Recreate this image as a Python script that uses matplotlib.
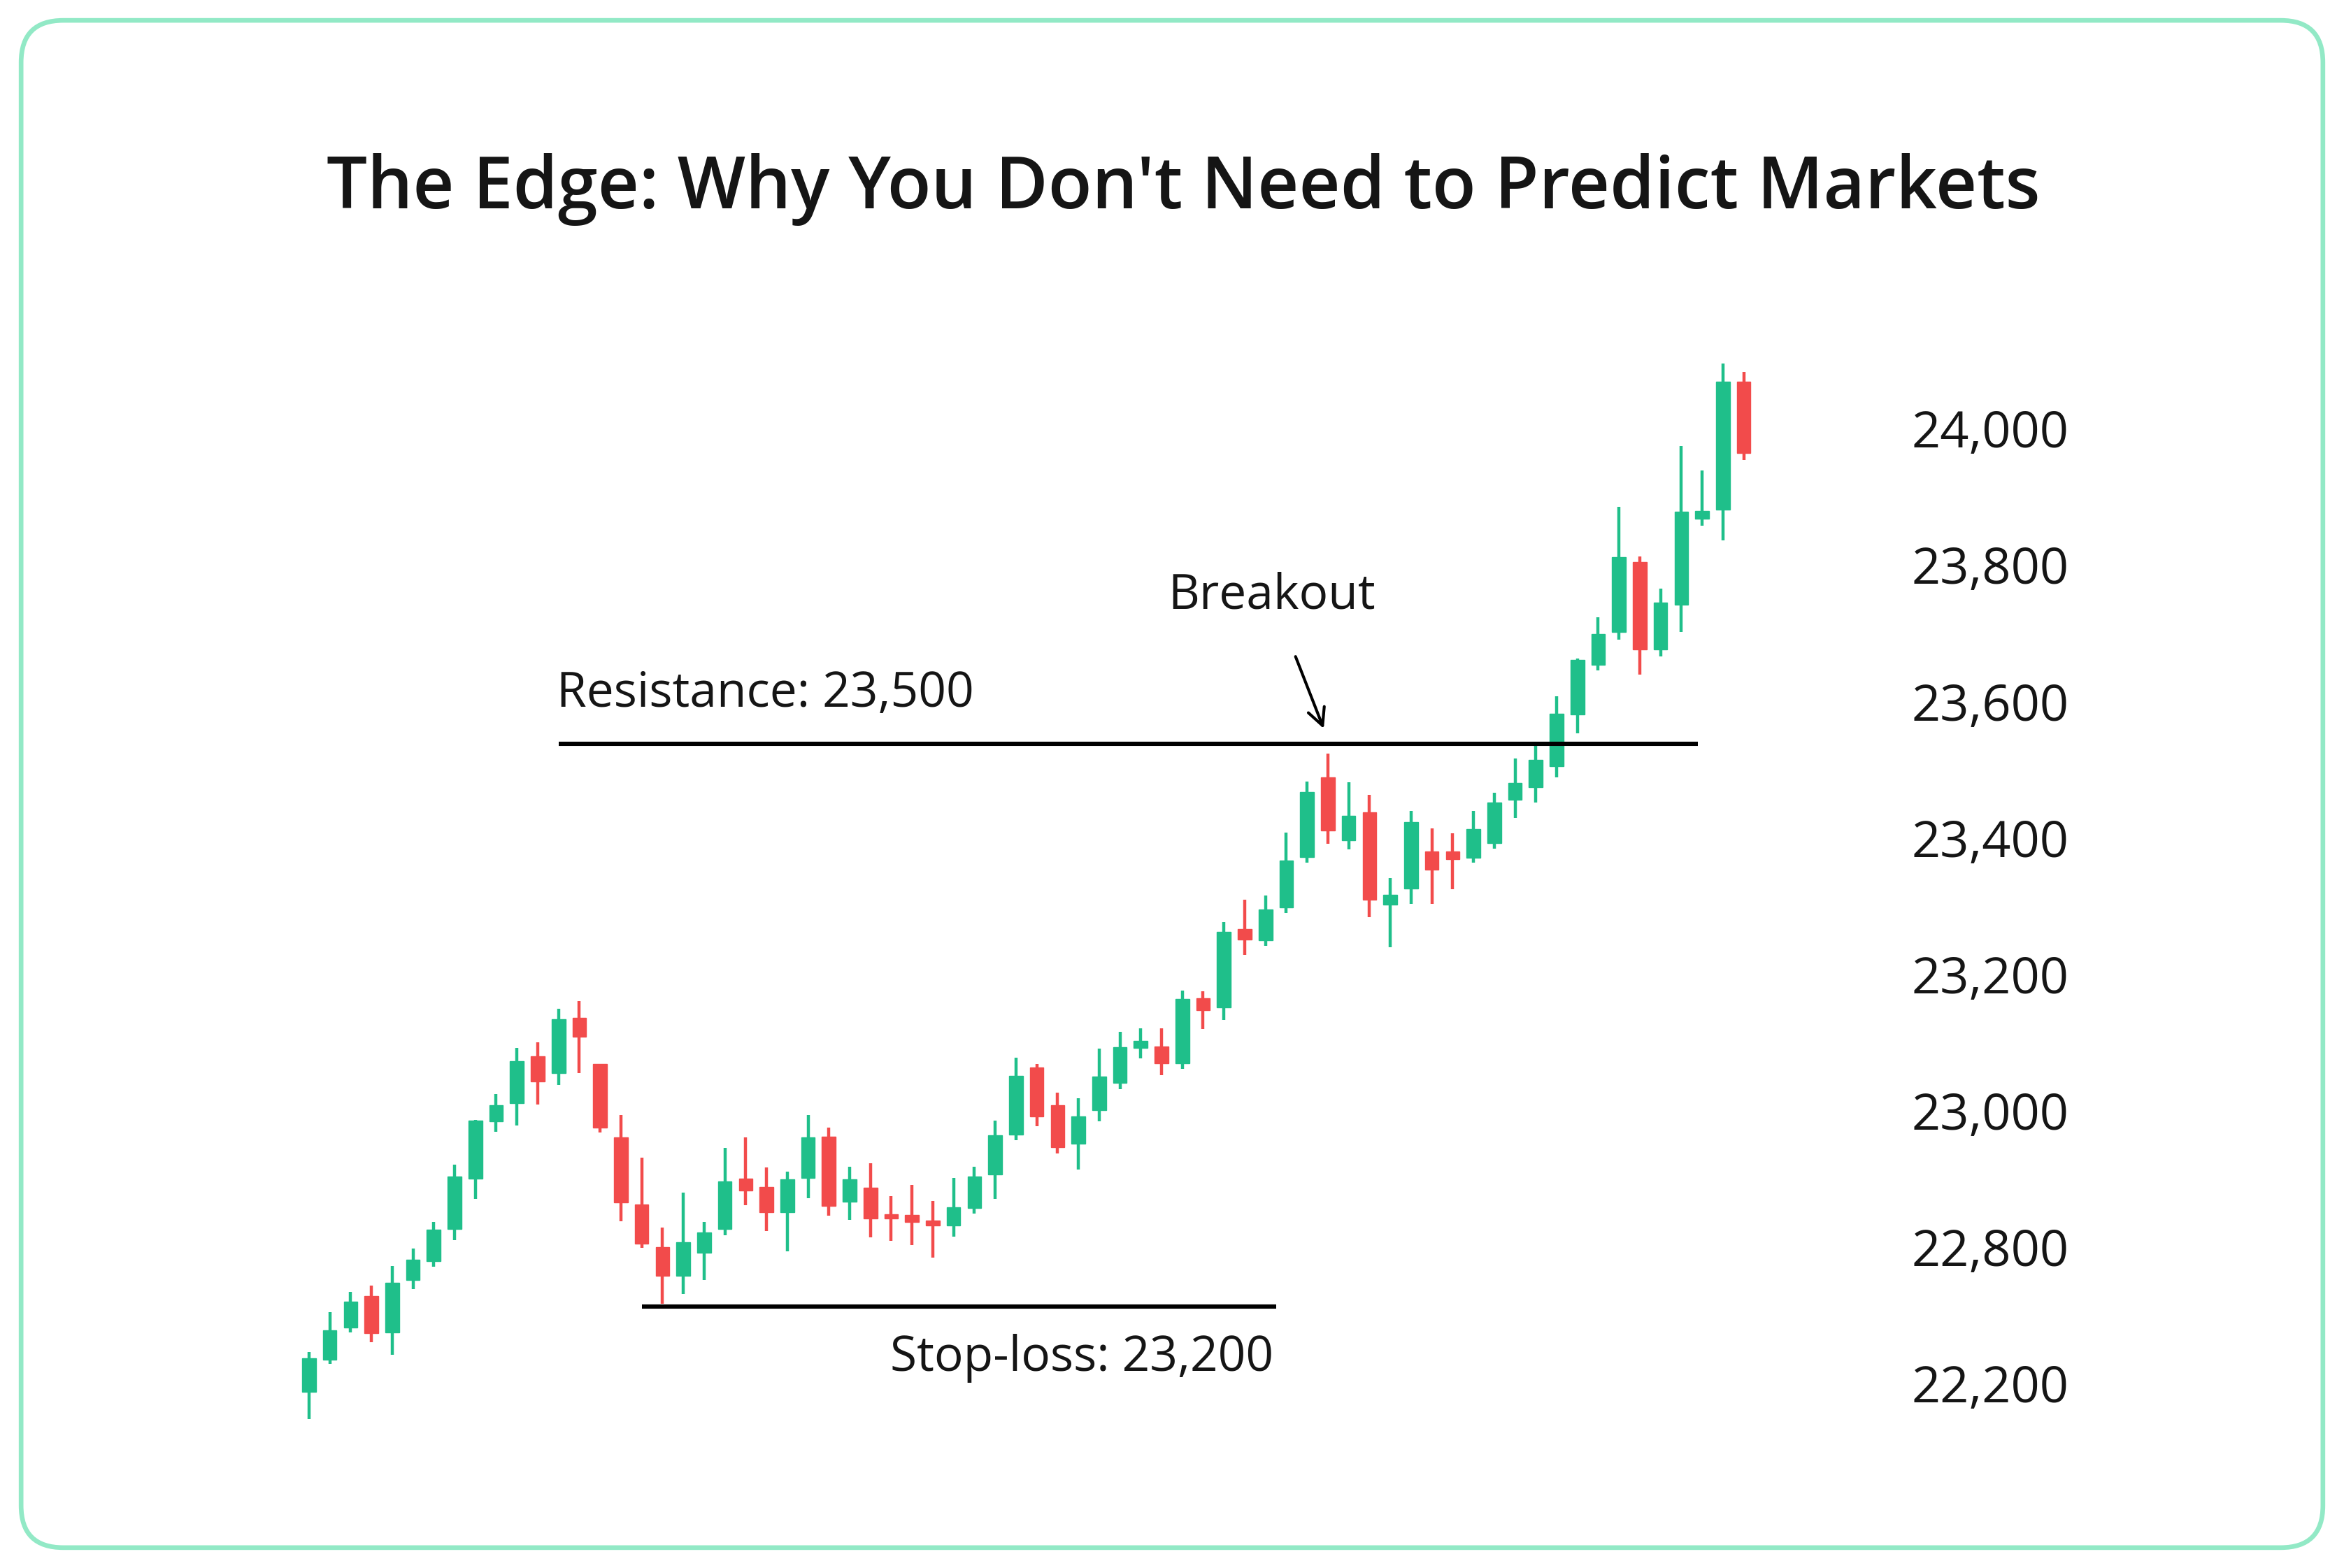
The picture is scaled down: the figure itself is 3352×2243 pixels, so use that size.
import matplotlib
matplotlib.use("Agg")
import matplotlib.pyplot as plt
from matplotlib.patches import FancyBboxPatch, Rectangle

# OHLC
opens = [22587, 22634, 22682, 22728, 22674, 22751, 22779, 22826, 22900, 22984,
         23011, 23079, 23055, 23136, 23068, 22960, 22862, 22800, 22757, 22791,
         22826, 22900, 22888, 22851, 22901, 22962, 22866, 22887, 22848, 22847,
         22838, 22831, 22857, 22906, 22965, 23063, 23008, 22951, 23000, 23040,
         23092, 23094, 23069, 23165, 23151, 23266, 23250, 23298, 23372, 23489,
         23396, 23437, 23302, 23325, 23380, 23380, 23371, 23392, 23456, 23474,
         23505, 23581, 23654, 23702, 23804, 23676, 23742, 23868, 23881, 24069]
closes = [22636, 22677, 22720, 22673, 22747, 22781, 22825, 22903, 22985, 23008,
          23072, 23043, 23134, 23108, 22975, 22865, 22805, 22757, 22807, 22821,
          22896, 22883, 22851, 22899, 22960, 22860, 22899, 22842, 22842, 22836,
          22831, 22858, 22903, 22964, 23051, 22991, 22946, 22991, 23050, 23093,
          23102, 23069, 23163, 23147, 23262, 23251, 23295, 23367, 23467, 23411,
          23432, 23309, 23316, 23423, 23353, 23369, 23413, 23452, 23480, 23514,
          23582, 23661, 23699, 23811, 23676, 23745, 23878, 23879, 24069, 23964]
highs = [22646, 22704, 22734, 22743, 22772, 22797, 22836, 22920, 22986, 23024,
         23092, 23100, 23149, 23160, 23068, 22993, 22931, 22828, 22879, 22836,
         22945, 22960, 22916, 22910, 22993, 22975, 22917, 22923, 22874, 22891,
         22867, 22901, 22917, 22985, 23077, 23068, 23026, 23018, 23091, 23115,
         23120, 23120, 23176, 23175, 23276, 23309, 23315, 23408, 23482, 23523,
         23481, 23463, 23341, 23439, 23414, 23406, 23439, 23466, 23516, 23536,
         23607, 23663, 23723, 23885, 23813, 23765, 23975, 23939, 24096, 24083]
lows = [22547, 22628, 22674, 22660, 22642, 22738, 22771, 22810, 22870, 22969,
        22978, 23009, 23037, 23055, 22968, 22837, 22798, 22716, 22731, 22751,
        22817, 22861, 22823, 22793, 22871, 22846, 22839, 22814, 22809, 22803,
        22784, 22815, 22849, 22870, 22956, 22977, 22937, 22913, 22984, 23031,
        23076, 23052, 23061, 23119, 23133, 23228, 23241, 23290, 23363, 23391,
        23383, 23283, 23239, 23303, 23303, 23324, 23363, 23384, 23429, 23452,
        23489, 23553, 23645, 23691, 23639, 23666, 23702, 23858, 23836, 23954]

tick_values = [24000, 23800, 23600, 23400, 23200, 23000, 22800, 22600]
tick_labels = ["24,000", "23,800", "23,600", "23,400", "23,200", "23,000", "22,800", "22,200"]

resistance = 23538
stop_loss = 22712

GREEN = "#1fbf8a"
RED = "#f24b4b"
FONT = ["Open Sans", "DejaVu Sans"]

fig = plt.figure(figsize=(16.76, 11.215), dpi=200)
border = FancyBboxPatch((0.009, 0.013), 0.982, 0.974,
                        boxstyle="round,pad=0,rounding_size=0.018",
                        transform=fig.transFigure, facecolor="white",
                        edgecolor="#92e9c6", linewidth=2.4,
                        mutation_aspect=1.49, zorder=-10)
fig.patches.append(border)

fig.text(0.505, 0.879, "The Edge: Why You Don't Need to Predict Markets",
         ha="center", va="center", fontsize=37, fontweight="semibold",
         family=FONT, color="#151515")

ax = fig.add_axes([0.121, 0.0905, 0.638, 0.6905], zorder=5)
ax.set_xlim(-1.22, 70.7)
ax.set_ylim(22537, 24125)

for i in range(len(opens)):
    o, c, h, l = opens[i], closes[i], highs[i], lows[i]
    col = GREEN if c >= o else RED
    ax.vlines(i, l, h, color=col, linewidth=1.6, zorder=2)
    lo = min(o, c)
    ax.add_patch(Rectangle((i - 0.33, lo), 0.66, max(abs(c - o), 6),
                           facecolor=col, edgecolor=col, linewidth=0.5, zorder=3))

ax.hlines(resistance, 12.0, 66.8, color="black", linewidth=2.2, zorder=4)
ax.hlines(stop_loss, 16.0, 46.5, color="black", linewidth=2.2, zorder=4)

ax.text(11.9, 23575, "Resistance: 23,500", ha="left", va="bottom",
        fontsize=25, family=FONT, color="#151515")
ax.text(46.4, 22672, "Stop-loss: 23,200", ha="right", va="top",
        fontsize=25, family=FONT, color="#151515")
ax.annotate("Breakout", xy=(48.8, 23560), xytext=(46.3, 23755),
            ha="center", va="center", fontsize=25, family=FONT, color="#151515",
            arrowprops=dict(arrowstyle="->", color="black", lw=1.5,
                            shrinkA=18, shrinkB=0, mutation_scale=22))

ax.yaxis.tick_right()
ax.set_yticks(tick_values)
ax.set_yticklabels(tick_labels, fontsize=26, family=FONT, color="#151515")
ax.tick_params(axis="y", length=0, pad=68)
ax.set_xticks([])
for s in ax.spines.values():
    s.set_visible(False)
ax.patch.set_alpha(0)

fig.savefig("out.png", dpi=200, facecolor="white")
